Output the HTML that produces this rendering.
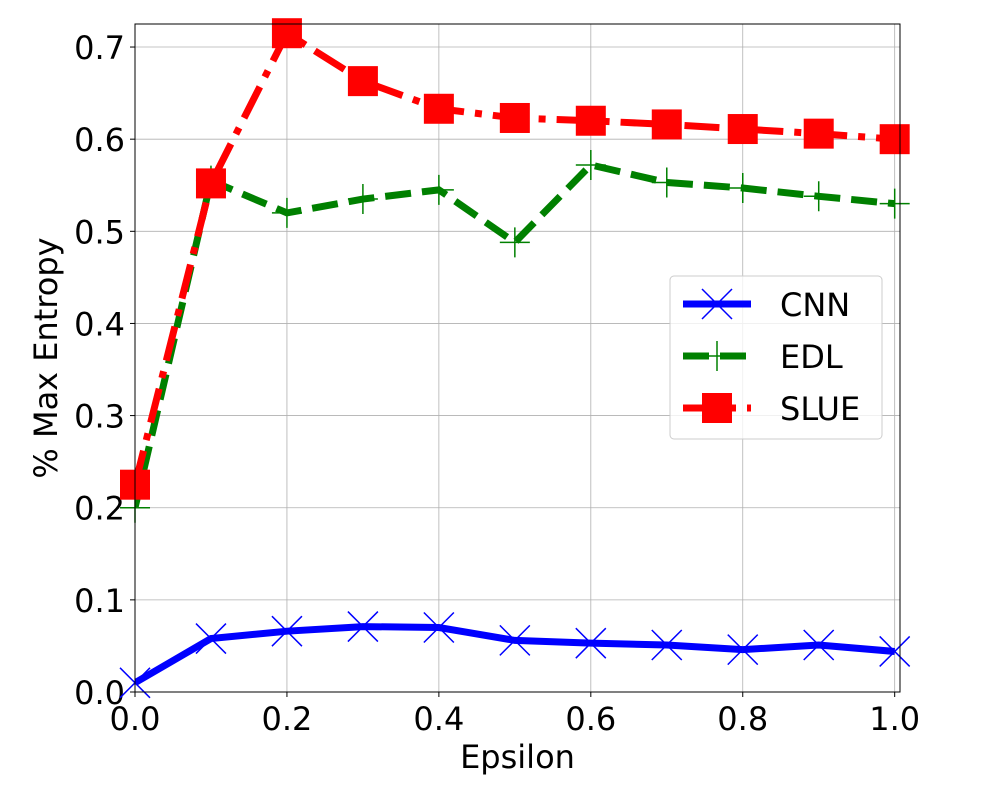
<!DOCTYPE html>
<html><head><meta charset="utf-8"><style>
body{margin:0;background:#fff;}
svg{font-family:"DejaVu Sans","Liberation Sans",sans-serif;}
</style></head><body>
<svg id="chart" width="1000" height="800"></svg>
<script>
const xValues=[0,0.1,0.2,0.3,0.4,0.5,0.6,0.7,0.8,0.9,1.0];
const cnnValues=[0.01,0.058,0.066,0.071,0.070,0.056,0.053,0.051,0.046,0.051,0.044];
const edlValues=[0.20,0.555,0.520,0.535,0.545,0.488,0.572,0.553,0.547,0.538,0.530];
const slueValues=[0.225,0.552,0.715,0.663,0.633,0.623,0.620,0.616,0.611,0.606,0.600];
const xTicks=[0,0.2,0.4,0.6,0.8,1.0];
const yTicks=[0,0.1,0.2,0.3,0.4,0.5,0.6,0.7];
const L=135,R=900,T=24,B=692,yMax=0.725,xMax=1.007;
const sx=v=>L+v/xMax*(R-L);
const sy=v=>B-v/yMax*(B-T);
const NS="http://www.w3.org/2000/svg";
const svg=document.getElementById('chart');
function mk(tag,attrs,parent){const e=document.createElementNS(NS,tag);for(const k in attrs)e.setAttribute(k,attrs[k]);(parent||svg).appendChild(e);return e;}
xTicks.forEach(t=>{const l=mk('line',{x1:sx(t),x2:sx(t),y1:T,y2:B,stroke:'#b0b0b0','stroke-width':0.8});


const tx=mk('text',{x:sx(t),y:B+38,'font-size':32,'text-anchor':'middle',fill:'#000'});tx.textContent=t.toFixed(1);


mk('line',{x1:sx(t),x2:sx(t),y1:B,y2:B+5,stroke:'#000','stroke-width':1});});
yTicks.forEach(t=>{const l=mk('line',{x1:L,x2:R,y1:sy(t),y2:sy(t),stroke:'#b0b0b0','stroke-width':0.8});


const tx=mk('text',{x:L-10,y:sy(t)+12,'font-size':32,'text-anchor':'end',fill:'#000'});tx.textContent=t.toFixed(1);


mk('line',{x1:L-5,x2:L,y1:sy(t),y2:sy(t),stroke:'#000','stroke-width':1});});
const clip=mk('clipPath',{id:'c'});mk('rect',{x:L,y:T,width:R-L,height:B-T},clip);
const g=mk('g',{'clip-path':'url(#c)'});


const gm=mk('g',{});


function series(vals,color,dash,name,marker){
 const pts=vals.map((v,i)=>sx(xValues[i])+','+sy(v)).join(' ');
 const p=mk('polyline',{points:pts,fill:'none',stroke:color,'stroke-width':7,'stroke-dasharray':dash},g);
 
 
 vals.forEach((v,i)=>{marker(sx(xValues[i]),sy(v),gm,name);});
}
function xMark(x,y,par){const m=mk('path',{d:`M${x-15},${y-15}L${x+15},${y+15}M${x-15},${y+15}L${x+15},${y-15}`,stroke:'blue','stroke-width':1.5,fill:'none'},par);

}
function plusMark(x,y,par){const m=mk('path',{d:`M${x-15},${y}L${x+15},${y}M${x},${y-15}L${x},${y+15}`,stroke:'green','stroke-width':1.5,fill:'none'},par);

}
function sqMark(x,y,par){const m=mk('rect',{x:x-15,y:y-15,width:30,height:30,fill:'red'},par);

}
series(cnnValues,'blue','none','cnn',xMark);
series(edlValues,'green','26,11','edl',plusMark);
series(slueValues,'red','35,11,7,11','slue',sqMark);
const fr=mk('rect',{x:L,y:T,width:R-L,height:B-T,fill:'none',stroke:'#000','stroke-width':1});


const xl=mk('text',{x:(L+R)/2,y:768,'font-size':32,'text-anchor':'middle'});xl.textContent='Epsilon';


const yl=mk('text',{x:0,y:0,'font-size':32,'text-anchor':'middle',transform:`translate(57,${(T+B)/2}) rotate(-90)`});yl.textContent='% Max Entropy';


const lg=mk('g',{});


mk('rect',{x:670,y:276,width:212,height:163,rx:4,fill:'#fff','fill-opacity':0.8,stroke:'#ccc'},lg);
const items=[['CNN','blue','none',xMark],['EDL','green','26,11',plusMark],['SLUE','red','35,11,7,11',sqMark]];
items.forEach((it,i)=>{const y=304+i*52;
 mk('line',{x1:683,x2:751,y1:y,y2:y,stroke:it[1],'stroke-width':7,'stroke-dasharray':it[2]},lg);
 it[3](717,y,lg);
 const t=mk('text',{x:780,y:y+12,'font-size':32},lg);t.textContent=it[0];
 
 });
</script>
</body></html>
